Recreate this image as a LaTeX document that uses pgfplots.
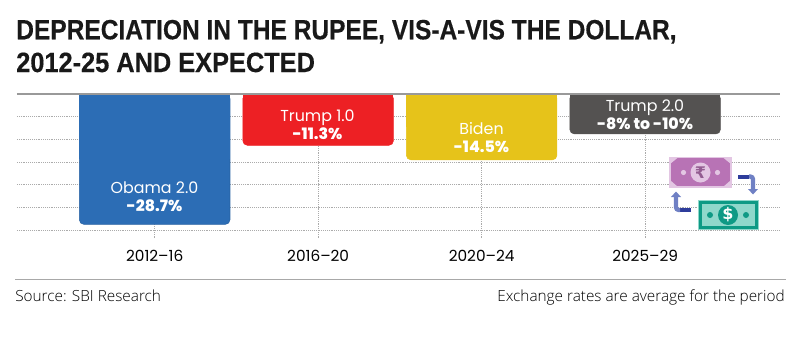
\documentclass[border=0pt]{standalone}
\usepackage{pgfplots}
\usepackage{pgfplotstable}
\usepackage{fontspec}
\pgfplotsset{compat=1.18}
\setmainfont{Poppins}
\newfontfamily\titlefont[FakeStretch=0.88,BoldFeatures={FakeStretch=0.88,FakeBold=0.4}]{Liberation Sans}
\newfontfamily\notefont{Open Sans Light}
\newfontfamily\xbfont{Poppins ExtraBold}
\newfontfamily\symfont{DejaVu Sans}
\definecolor{cBlue}{HTML}{2C6DB5}
\definecolor{cRed}{HTML}{ED2024}
\definecolor{cYel}{HTML}{E6C31A}
\definecolor{cGry}{HTML}{545251}
\definecolor{cRule}{HTML}{999999}
\definecolor{cGrid}{HTML}{ABABAB}
\definecolor{cPur}{HTML}{B873B5}
\definecolor{cPurL}{HTML}{E3C6E3}
\definecolor{cGrn}{HTML}{0E9A85}
\definecolor{cGrnL}{HTML}{8FD8CB}
\definecolor{cArr}{HTML}{2E3D9B}
\definecolor{cArrL}{HTML}{6F80C4}
\pgfplotstableread{
x v
0 -28.7
}\tblA
\pgfplotstableread{
x v
1 -11.3
}\tblB
\pgfplotstableread{
x v
2 -14.5
}\tblC
\pgfplotstableread{
x v
3 -8.8
}\tblD
\begin{document}
\begin{tikzpicture}
\path[use as bounding box] (0,0) rectangle (600.75pt,-265.5pt);
\begin{axis}[
  at={(12.75pt,-70.5pt)},anchor=north west,scale only axis,
  width=572.25pt,height=108pt,
  xmin=-0.842,xmax=3.825,ymin=-31.7,ymax=0,
  xtick={0,1,2,3},xticklabels={2012--16,2016--20,2020--24,2025--29},
  ytick={-30,-25,-20,-15,-10,-5},yticklabels={},
  xmajorgrids,ymajorgrids,
  grid style={cGrid,densely dotted,line width=0.55pt},
  axis line style={draw=none},
  major tick length=0pt,
  xticklabel style={font=\fontsize{11.5}{13}\selectfont,yshift=-5.5pt},
  ybar,bar width=113pt,bar shift=0pt,
  clip=false,
]
\addplot[fill=cBlue,draw=cBlue!90!black,line width=0.4pt,rounded corners=3.5pt] table[x=x,y=v]{\tblA};
\addplot[fill=cBlue,draw=none] table[x=x,y expr=\thisrow{v}*0.5]{\tblA};
\addplot[fill=cRed,draw=cRed,line width=0.4pt,rounded corners=3.5pt] table[x=x,y=v]{\tblB};
\addplot[fill=cRed,draw=none] table[x=x,y expr=\thisrow{v}*0.5]{\tblB};
\addplot[fill=cYel,draw=cYel,line width=0.4pt,rounded corners=3.5pt] table[x=x,y=v]{\tblC};
\addplot[fill=cYel,draw=none] table[x=x,y expr=\thisrow{v}*0.5]{\tblC};
\addplot[fill=cGry,draw=cGry,line width=0.4pt,rounded corners=3.5pt] table[x=x,y=v]{\tblD};
\addplot[fill=cGry,draw=none] table[x=x,y expr=\thisrow{v}*0.5]{\tblD};
\draw[cRule,line width=1.6pt] (rel axis cs:0,1) -- (rel axis cs:1,1);
\end{axis}
\begin{scope}[x=0.75pt,y=-0.75pt]
% title
\node[anchor=base west,inner sep=0pt,text=black!90] at (16,39.3) {\titlefont\bfseries\fontsize{20.9}{22}\selectfont DEPRECIATION IN THE RUPEE, VIS-A-VIS THE DOLLAR,};
\node[anchor=base west,inner sep=0pt,text=black!90] at (16,72) {\scalebox{1.034}[1]{\titlefont\bfseries\fontsize{20.9}{22}\selectfont 2012-25 AND EXPECTED}};
% bar labels
\tikzset{lab/.style={text=white,anchor=base,inner sep=0pt,font=\fontsize{11.9}{13}\selectfont},
 labb/.style={text=white,anchor=base,inner sep=0pt,font=\fontsize{11.8}{13}\xbfont\selectfont}}
\node[lab] at (154.5,193) {Obama 2.0};
\node[labb] at (154.5,211) {-28.7\%};
\node[lab] at (317.5,121) {Trump 1.0};
\node[labb] at (317.5,139) {-11.3\%};
\node[lab] at (481.5,134) {Biden};
\node[labb] at (481.5,152) {-14.5\%};
\node[lab] at (645,111) {Trump 2.0};
\node[labb] at (645,129) {-8\% to -10\%};
% currency icon
\fill[cPur] (669.5,157) rectangle (731.5,187);
\draw[cPurL,line width=0.8pt] (670,157.5) rectangle (731,187);
\fill[cPurL] (670,157.5) -- (678,157.5) -- (670,164) -- cycle;
\fill[cPurL] (731,157.5) -- (723,157.5) -- (731,164) -- cycle;
\fill[cPurL] (670,187) -- (678,187) -- (670,180) -- cycle;
\fill[cPurL] (731,187) -- (723,187) -- (731,180) -- cycle;
\fill[cPurL] (700.5,172.5) circle (10);
\fill[cPurL] (683.5,172.5) circle (2.6) (717.5,172.5) circle (2.6);
\node[text=cPur!80!black,inner sep=0pt] at (700.5,172.5) {\symfont\bfseries\fontsize{12}{12}\selectfont ₹};
\fill[cGrnL] (697.5,200) rectangle (758.5,230);
\fill[cGrn] (698.5,201) rectangle (757.5,229);
\fill[cGrnL] (701.5,204) rectangle (754.5,226);
\fill[cGrn] (728,215) circle (10);
\fill[cGrn] (710,215) circle (3) (746,215) circle (3);
\node[text=white,inner sep=0pt] at (728,215) {\symfont\bfseries\fontsize{12}{12}\selectfont\$};
\draw[cArr,line width=3pt] (738,176.5) -- (749,176.5);
\draw[cArrL,line width=3.2pt,rounded corners=2pt] (749,176.5) -- (753,176.5) -- (753,190);
\fill[cArrL] (748,189) -- (758,189) -- (753,194.5) -- cycle;
\draw[cArr,line width=3pt] (691,210) -- (680,210);
\draw[cArrL,line width=3.2pt,rounded corners=2pt] (680,210) -- (676,210) -- (676,197);
\fill[cArrL] (671,197) -- (681,197) -- (676,191.5) -- cycle;
% footer
\draw[cRule!85,line width=0.8pt] (15,279.5) -- (786,279.5);
\node[anchor=base west,inner sep=0pt] at (15,301) {\notefont\fontsize{11.5}{12}\selectfont Source: SBI Research};
\node[anchor=base east,inner sep=0pt] at (785,301) {\notefont\fontsize{11.5}{12}\selectfont Exchange rates are average for the period};
\end{scope}
\end{tikzpicture}
\end{document}
